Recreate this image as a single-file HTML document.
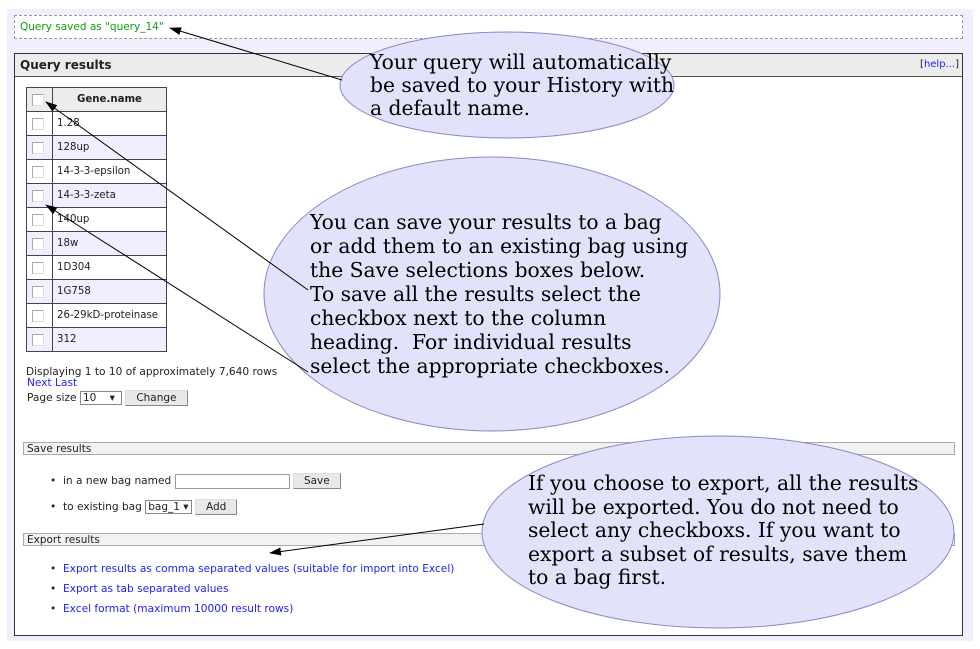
<!DOCTYPE html>
<html><head><meta charset="utf-8">
<style>
body{margin:0;width:980px;height:649px;background:#fff;position:relative;overflow:hidden;font-family:"DejaVu Sans","Liberation Sans",sans-serif;font-size:10.6px;color:#222}
.abs{position:absolute}
.bg{left:7px;top:9px;width:966px;height:632px;background:#f1effd}
.dash{left:14px;top:15px;width:947px;height:22px;background:#fff;border:1px dashed #999}
.panel{left:14px;top:53px;width:947px;height:581px;background:#fff;border:1px solid #333}
.ph{left:0;top:0;width:947px;height:22px;background:#ececec;border-bottom:1px solid #555;font-weight:bold;font-size:12px}
table{border-collapse:collapse;position:absolute;left:11px;top:33px;table-layout:fixed;width:140px}
td{border:1px solid #444;height:23px;padding:0 0 0 4px;font-size:10.2px;white-space:nowrap;overflow:hidden}
td.c{padding:0 0 0 5px}
.cb{display:inline-block;width:10px;height:10px;border:1px solid #aaa;border-right-color:#ddd;border-bottom-color:#ddd;background:#fff;vertical-align:middle}
tr.a td{background:#f0eeff}
.sec{left:8px;width:932px;height:13px;background:#f2f2f2;border:1px solid #aaa;font-size:10.5px;line-height:13px;padding-left:3px;box-sizing:border-box}
.btn{display:inline-block;background:#e8e8e8;border:1px solid #888;border-top-color:#ddd;border-left-color:#ddd;padding:1px 10px;font-size:10.5px}
.sel{display:inline-block;border:1px solid #888;background:#fff;font-size:10.5px;padding:0 2px}
a{color:#2222ee;text-decoration:none}
</style></head><body>
<div class="abs bg"></div>
<div class="abs dash"><span style="position:absolute;left:5px;top:5px;color:#119911;font-size:10.5px">Query saved as "query_14"</span></div>
<div class="abs panel">
 <div class="abs ph"><span style="position:absolute;left:5px;top:4px">Query results</span><span style="position:absolute;right:3px;top:5px;font-weight:normal;font-size:10px">[<a>help...</a>]</span></div>
 <table>
  <colgroup><col style="width:26px"><col style="width:114px"></colgroup>
  <tr style="background:#ececec"><td class="c"><span class="cb"></span></td><td style="text-align:center;font-weight:bold;background:#ececec;padding:0">Gene.name</td></tr>
  <tr><td class="c"><span class="cb"></span></td><td>1.28</td></tr>
  <tr class="a"><td class="c"><span class="cb"></span></td><td>128up</td></tr>
  <tr><td class="c"><span class="cb"></span></td><td>14-3-3-epsilon</td></tr>
  <tr class="a"><td class="c"><span class="cb"></span></td><td>14-3-3-zeta</td></tr>
  <tr><td class="c"><span class="cb"></span></td><td>140up</td></tr>
  <tr class="a"><td class="c"><span class="cb"></span></td><td>18w</td></tr>
  <tr><td class="c"><span class="cb"></span></td><td>1D304</td></tr>
  <tr class="a"><td class="c"><span class="cb"></span></td><td>1G758</td></tr>
  <tr><td class="c"><span class="cb"></span></td><td>26-29kD-proteinase</td></tr>
  <tr class="a"><td class="c"><span class="cb"></span></td><td>312</td></tr>
 </table>
 <div class="abs" style="left:11px;top:312px">Displaying 1 to 10 of approximately 7,640 rows</div>
 <div class="abs" style="left:12px;top:323px"><a>Next Last</a></div>
 <div class="abs" style="left:12px;top:336px">Page size <span class="sel" style="width:36px">10 &nbsp;&nbsp;&nbsp;▾</span> <span class="btn">Change</span></div>
 <div class="abs sec" style="top:388px">Save results</div>
 <div class="abs" style="left:35px;top:419px">• &nbsp;in a new bag named <span style="display:inline-block;width:113px;height:13px;border:1px solid #999;vertical-align:middle"></span> <span class="btn">Save</span></div>
 <div class="abs" style="left:35px;top:445px">• &nbsp;to existing bag <span class="sel">bag_1 ▾</span> <span class="btn">Add</span></div>
 <div class="abs sec" style="top:479px">Export results</div>
 <div class="abs" style="left:35px;top:509px">• &nbsp;<a>Export results as comma separated values (suitable for import into Excel)</a></div>
 <div class="abs" style="left:35px;top:529px">• &nbsp;<a>Export as tab separated values</a></div>
 <div class="abs" style="left:35px;top:549px">• &nbsp;<a>Excel format (maximum 10000 result rows)</a></div>
</div>
<svg class="abs" style="left:0;top:0" width="980" height="649">
<defs><marker id="m" markerWidth="12" markerHeight="8" refX="11" refY="4" orient="auto" markerUnits="userSpaceOnUse"><path d="M0,0 L12,4 L0,8z" fill="#000"/></marker></defs>
<g fill="#e2e2fa" stroke="#8888cc" stroke-width="1">
<ellipse cx="507" cy="85" rx="167" ry="53"/>
<ellipse cx="492" cy="294" rx="228" ry="137"/>
<ellipse cx="718" cy="532" rx="236" ry="96"/>
</g>
<g stroke="#000" stroke-width="1" marker-end="url(#m)">
<line x1="342" y1="80" x2="170" y2="28"/>
<line x1="308" y1="290" x2="46" y2="102"/>
<line x1="308" y1="372" x2="46" y2="205"/>
<line x1="484" y1="524" x2="270" y2="553"/>
</g>
<g font-family="DejaVu Serif, Liberation Serif, serif" font-size="20.3" fill="#000">
<text x="370" y="69">Your query will automatically</text>
<text x="370" y="92">be saved to your History with</text>
<text x="370" y="115">a default name.</text>
<text x="310" y="229">You can save your results to a bag</text>
<text x="310" y="253">or add them to an existing bag using</text>
<text x="310" y="277">the Save selections boxes below.</text>
<text x="310" y="301">To save all the results select the</text>
<text x="310" y="325">checkbox next to the column</text>
<text x="310" y="349" xml:space="preserve">heading.  For individual results</text>
<text x="310" y="373">select the appropriate checkboxes.</text>
<text x="528" y="490">If you choose to export, all the results</text>
<text x="528" y="514">will be exported. You do not need to</text>
<text x="528" y="537">select any checkboxs. If you want to</text>
<text x="528" y="561">export a subset of results, save them</text>
<text x="528" y="584">to a bag first.</text>
</g>
</svg>
</body></html>
